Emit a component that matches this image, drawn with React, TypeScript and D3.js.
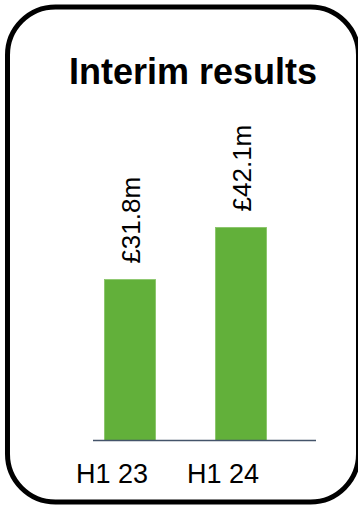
import React from "react";
import * as d3 from "d3";

const categories = ["H1 23", "H1 24"];
const values = [31.8, 42.1];
const valueLabels = ["£31.8m", "£42.1m"];
const title = "Interim results";

const W = 358;
const H = 506;
const FONT = "'Liberation Sans', Arial, Helvetica, sans-serif";

export default function App() {
  const baseY = 440.5;
  const x = d3
    .scaleBand<string>()
    .domain(categories)
    .range([74.5, 296.5])
    .paddingInner(0.54)
    .paddingOuter(0.27);
  const y = d3.scaleLinear().domain([0, 10]).range([baseY, baseY - 50.6]);

  return (
    <svg
      width={W}
      height={H}
      style={{ position: "absolute", left: 0, top: 0, background: "#fff" }}
    >
      <rect
        x={7.5}
        y={7}
        width={351}
        height={495}
        rx={48}
        ry={48}
        fill="#fff"
        stroke="#000"
        strokeWidth={5}
      />
      <text
        x={69}
        y={84}
        fontFamily={FONT}
        fontWeight="bold"
        fontSize={36}
        fill="#000"
      >
        {title}
      </text>
      {categories.map((c, i) => {
        const bx = x(c)!;
        const bw = x.bandwidth();
        const top = y(values[i]);
        const cx = bx + bw / 2;
        return (
          <g key={c}>
            <rect
              x={bx}
              y={top}
              width={bw}
              height={baseY - top}
              fill="#62b03a"
              stroke="#86c365"
              strokeWidth={0.8}
            />
            <text
              transform={`translate(${cx + 9.5},${top - 16}) rotate(-90)`}
              fontFamily={FONT}
              fontSize={26}
              fill="#000"
            >
              {valueLabels[i]}
            </text>
            <text
              x={cx - 18}
              y={483}
              textAnchor="middle"
              fontFamily={FONT}
              fontSize={27}
              fill="#000"
            >
              {c}
            </text>
          </g>
        );
      })}
      <line
        x1={93}
        x2={316}
        y1={baseY}
        y2={baseY}
        stroke="#44546a"
        strokeWidth={1.5}
      />
    </svg>
  );
}
